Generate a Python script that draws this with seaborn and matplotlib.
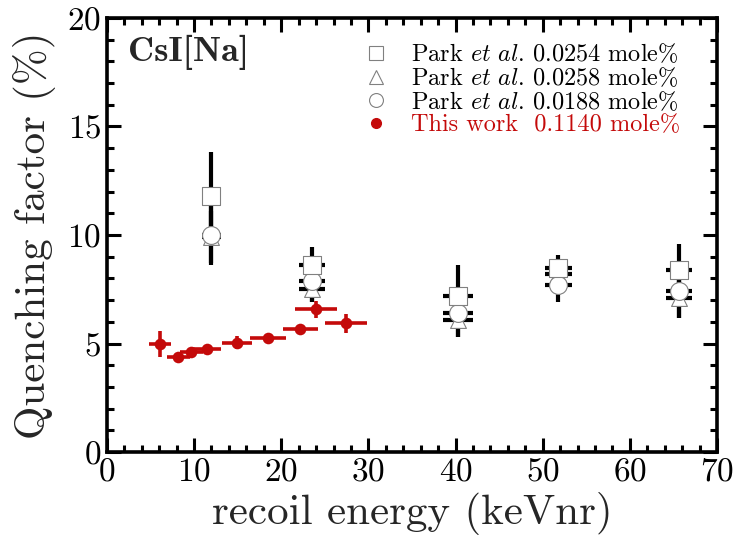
import matplotlib
matplotlib.use("Agg")
import matplotlib.pyplot as plt
import seaborn as sns
import pandas as pd
import numpy as np
from matplotlib.ticker import MultipleLocator
from matplotlib.lines import Line2D

sns.set_style("ticks")
plt.rcParams['font.family'] = ['cmr10', 'DejaVu Serif']
plt.rcParams['mathtext.fontset'] = 'cm'
plt.rcParams['axes.formatter.use_mathtext'] = True

# Park et al. data
park_x = [12.0, 23.5, 40.3, 51.8, 65.6]
park_xerr = [1.1, 1.5, 1.7, 1.5, 1.5]
sq_y = [11.8, 8.6, 7.2, 8.5, 8.4]
sq_yerr = [2.0, 0.85, 1.4, 0.6, 1.2]
tri_y = [9.9, 7.5, 6.1, 8.2, 7.1]
tri_yerr = [1.2, 0.6, 0.8, 0.7, 0.9]
cir_y = [10.0, 7.9, 6.4, 7.7, 7.4]
cir_yerr = [1.4, 1.0, 1.1, 0.8, 1.2]

# This work
tw_x = [6.1, 8.2, 9.7, 11.5, 14.9, 18.5, 22.2, 24.0, 27.4]
tw_xerr = [1.25, 1.3, 1.3, 1.6, 1.7, 2.1, 2.0, 2.45, 2.4]
tw_y = [5.0, 4.37, 4.62, 4.73, 5.03, 5.27, 5.67, 6.58, 5.93]
tw_yerr = [0.6, 0.15, 0.2, 0.15, 0.3, 0.1, 0.1, 0.4, 0.45]

labels = [r"Park $\mathit{et\ al}$. 0.0254 mole%",
          r"Park $\mathit{et\ al}$. 0.0258 mole%",
          r"Park $\mathit{et\ al}$. 0.0188 mole%",
          "This work  0.1140 mole%"]

red = "#c40a0a"

fig = plt.figure(figsize=(7.37, 5.39), dpi=100)
ax = fig.add_axes([0.145, 0.161, 0.828, 0.806])

# error bars
for ys, ye in [(tri_y, tri_yerr), (cir_y, cir_yerr), (sq_y, sq_yerr)]:
    ax.errorbar(park_x, ys, xerr=park_xerr, yerr=ye, fmt='none',
                ecolor='black', elinewidth=3.0, capsize=0, zorder=2)
ax.errorbar(tw_x, tw_y, xerr=tw_xerr, yerr=tw_yerr, fmt='none',
            ecolor=red, elinewidth=2.6, capsize=0, zorder=2)

# markers via seaborn
df_tri = pd.DataFrame({"x": park_x, "y": tri_y})
df_cir = pd.DataFrame({"x": park_x, "y": cir_y})
df_sq = pd.DataFrame({"x": park_x, "y": sq_y})
df_tw = pd.DataFrame({"x": tw_x, "y": tw_y})
sns.scatterplot(data=df_tri, x="x", y="y", marker="^", s=130, color="white",
                edgecolor="#808080", linewidth=0.8, ax=ax, zorder=3)
sns.scatterplot(data=df_cir, x="x", y="y", marker="o", s=165, color="white",
                edgecolor="#808080", linewidth=0.8, ax=ax, zorder=4)
sns.scatterplot(data=df_sq, x="x", y="y", marker="s", s=150, color="white",
                edgecolor="#808080", linewidth=0.8, ax=ax, zorder=5)
sns.scatterplot(data=df_tw, x="x", y="y", marker="o", s=70, color=red,
                edgecolor=red, linewidth=0, ax=ax, zorder=6)

# legend (manual handles)
handles = [Line2D([], [], ls='none', marker='s', ms=10, mfc='white', mec='#808080', mew=0.8),
           Line2D([], [], ls='none', marker='^', ms=10, mfc='white', mec='#808080', mew=0.8),
           Line2D([], [], ls='none', marker='o', ms=10, mfc='white', mec='#808080', mew=0.8),
           Line2D([], [], ls='none', marker='o', ms=7, mfc=red, mec=red)]
leg = ax.legend(handles, labels, loc='upper right', frameon=False,
                fontsize=17.5, handletextpad=0.7, labelspacing=0.0,
                handlelength=1.5,
                bbox_to_anchor=(0.955, 0.965), borderaxespad=0.0)
for t, c in zip(leg.get_texts(), ['black', 'black', 'black', red]):
    t.set_color(c)

ax.text(0.035, 0.92, "CsI[Na]", transform=ax.transAxes, fontsize=26,
        fontweight='bold', family=['cmb10', 'DejaVu Serif'], va='center', ha='left')

ax.set_xlim(0, 70)
ax.set_ylim(0, 20)
ax.xaxis.set_major_locator(MultipleLocator(10))
ax.xaxis.set_minor_locator(MultipleLocator(2))
ax.yaxis.set_major_locator(MultipleLocator(5))
ax.yaxis.set_minor_locator(MultipleLocator(1))
ax.tick_params(which='both', direction='in', top=True, right=True,
               labelsize=24, width=2.2, pad=4, colors='black')
ax.tick_params(which='major', length=10)
ax.tick_params(which='minor', length=5)
for s in ax.spines.values():
    s.set_linewidth(2.6)
    s.set_visible(True)
    s.set_color('black')

ax.set_xlabel("recoil energy (keVnr)", fontsize=31, labelpad=4)
ax.set_ylabel("Quenching factor (%)", fontsize=31, labelpad=8)

fig.savefig("out.png", dpi=100)
